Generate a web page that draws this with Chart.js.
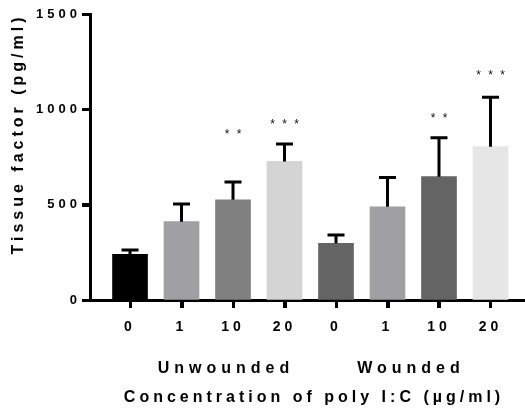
<!DOCTYPE html>
<html>
<head>
<meta charset="utf-8">
<script src="https://cdn.jsdelivr.net/npm/chart.js@4"></script>
<style>
  html, body { margin: 0; padding: 0; background: #fff; }
  #wrap { width: 525px; height: 416px; position: relative; }
</style>
</head>
<body>
<div id="wrap"><canvas id="tf-chart"></canvas></div>
<script>
document.addEventListener("DOMContentLoaded", () => {

// ─── Data ─────────────────────────────────────────────────────────────────────

const doses   = ["0", "1", "10", "20", "0", "1", "10", "20"];
const groups  = ["Unwounded", "Wounded"];
const means   = [240, 411, 526, 727, 297, 489, 647, 804];
const sem     = [22, 92, 93, 91, 44, 154, 204, 259];
const signif  = ["", "", "* *", "* * *", "", "", "* *", "* * *"];
const sigAt   = [0, 0, 883, 934, 0, 0, 966, 1192];   // height of the stars, pg/ml
const yTicks  = [0, 500, 1000, 1500];

// ─── Styles ───────────────────────────────────────────────────────────────────

const barColors = ["#000000", "#a0a0a4", "#808080", "#d4d4d4", "#646464", "#a0a0a4", "#646464", "#e6e6e6"];
const FONT = "'Liberation Sans', Arial, sans-serif";
const TICK = 8;

// ─── Extra drawing: tick marks, error bars, stars, titles ────────────────────

const extras = {
  id: "extras",
  beforeDraw(chart) {
    chart.ctx.letterSpacing = "4px";
  },
  afterDatasetsDraw(chart) {
    const ctx = chart.ctx;
    const { x, y } = chart.scales;
    const bars = chart.getDatasetMeta(0).data;
    ctx.save();
    ctx.strokeStyle = "#000";
    ctx.lineWidth = 3;

    // tick marks on both axes
    ctx.beginPath();
    x.ticks.forEach(t => {
      const px = Math.round(x.getPixelForValue(t.value)) + 0.5;
      ctx.moveTo(px, y.bottom);
      ctx.lineTo(px, y.bottom + TICK);
    });
    y.ticks.forEach(t => {
      const py = Math.round(y.getPixelForValue(t.value)) + 0.5;
      ctx.moveTo(x.left - TICK, py);
      ctx.lineTo(x.left, py);
    });
    ctx.stroke();

    // error bars (upper half only)
    bars.forEach((b, i) => {
      const top = y.getPixelForValue(means[i] + sem[i]);
      const bot = y.getPixelForValue(means[i]);
      ctx.beginPath();
      ctx.moveTo(b.x, bot);
      ctx.lineTo(b.x, top);
      ctx.moveTo(b.x - 8.5, top);
      ctx.lineTo(b.x + 8.5, top);
      ctx.stroke();
    });

    // significance stars
    ctx.fillStyle = "#111";
    ctx.font = "12px " + FONT;
    ctx.letterSpacing = "2px";
    ctx.textAlign = "center";
    ctx.textBaseline = "middle";
    bars.forEach((b, i) => {
      if (!signif[i]) return;
      ctx.fillText(signif[i], b.x + 1, y.getPixelForValue(sigAt[i]) + 3);
    });
    ctx.restore();
  },
  afterDraw(chart) {
    const ctx = chart.ctx;
    ctx.save();
    ctx.fillStyle = "#000";
    ctx.textAlign = "center";
    ctx.textBaseline = "middle";
    ctx.font = "bold 16px " + FONT;

    // y axis title
    ctx.letterSpacing = "4px";
    ctx.save();
    ctx.translate(19, 136);
    ctx.rotate(-Math.PI / 2);
    ctx.fillText("Tissue factor (pg/ml)", 2, 0);
    ctx.restore();

    // group labels
    ctx.letterSpacing = "5px";
    ctx.fillText(groups[0], 226, 369);
    ctx.fillText(groups[1], 411, 369);

    // x axis title
    ctx.letterSpacing = "4px";
    ctx.fillText("Concentration of poly I:C (µg/ml)", 314, 398);
    ctx.restore();
  }
};

// ─── Chart ────────────────────────────────────────────────────────────────────

const axisGrid = { display: true, offset: false, drawOnChartArea: false, tickLength: TICK, tickWidth: 3, tickColor: "#000" };

new Chart(document.getElementById("tf-chart"), {
  type: "bar",
  data: {
    datasets: [{
      data: means.map((m, i) => ({ x: i, y: m })),
      backgroundColor: barColors,
      borderWidth: 0,
      barThickness: 35,
    }]
  },
  options: {
    responsive: true,
    maintainAspectRatio: false,
    animation: false,
    layout: { padding: { top: 14, left: 0, right: 0, bottom: 0 } },
    plugins: {
      legend: { display: false },
      tooltip: { enabled: false },
    },
    scales: {
      x: {
        type: "linear",
        offset: false,
        min: -0.777,
        max: 7.67,
        afterBuildTicks: s => { s.ticks = doses.map((_, i) => ({ value: i })); },
        afterFit: s => { s.height = 116; },
        ticks: {
          callback: v => doses[v],
          color: "#000",
          font: { family: FONT, size: 14, weight: "bold" },
          padding: 11,
          maxRotation: 0,
          autoSkip: false,
        },
        grid: { ...axisGrid },
        border: { display: true, color: "#000", width: 3 },
      },
      y: {
        min: 0,
        max: 1500,
        afterBuildTicks: s => { s.ticks = yTicks.map(v => ({ value: v })); },
        afterFit: s => { s.width = 90; },
        ticks: {
          callback: v => String(v),
          color: "#000",
          font: { family: FONT, size: 13, weight: "bold" },
          padding: 1,
        },
        grid: { ...axisGrid },
        border: { display: true, color: "#000", width: 3 },
      }
    }
  },
  plugins: [extras]
});

}); // DOMContentLoaded
</script>
</body>
</html>
